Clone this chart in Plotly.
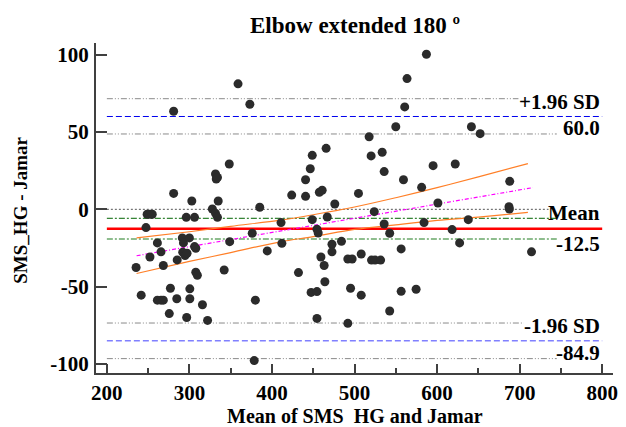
import plotly.graph_objects as go

# Bland-Altman: mean of the two methods vs difference
mean_vals = [
    235.4, 241.6, 247.4, 248.8, 252.2, 255.0, 252.2, 261.2, 261.2, 265.6,
    268.4, 265.6, 268.4, 275.6, 277.0, 280.9, 280.9, 284.7, 285.2, 291.4,
    292.8, 291.9, 294.7, 297.1, 296.2, 296.7, 300.0, 300.5, 300.5, 302.9,
    306.2, 306.2, 307.7, 307.7, 309.6, 315.8, 322.0, 327.8, 331.6, 332.5,
    334.0, 331.6, 334.0, 334.9, 342.1, 348.3, 348.8, 358.9, 373.2, 376.1,
    379.9, 378.5, 385.2, 394.3, 411.0, 412.0, 423.9, 432.1, 440.7, 440.7,
    446.4, 448.8, 447.4, 454.5, 448.8, 454.5, 456.0, 454.5, 457.4, 460.8,
    459.3, 463.2, 465.6, 467.0, 464.1, 472.7, 472.7, 476.1, 484.2, 491.9,
    497.1, 491.9, 495.2, 504.8, 508.1, 508.1, 517.7, 520.1, 520.6, 524.9,
    531.6, 523.9, 533.5, 535.9, 535.9, 542.6, 542.6, 550.0, 556.5, 556.5,
    559.3, 560.8, 563.6, 574.6, 581.3, 584.2, 587.1, 595.2, 601.0, 618.2,
    622.0, 627.3, 637.8, 641.6, 652.2, 688.0, 687.1, 687.6, 714.4,
]
diff_vals = [
    -37.6, -55.5, -11.8, -3.2, -3.2, -3.2, -30.8, -21.7, -58.7, -58.7,
    -58.7, -27.5, -36.3, -67.4, -51.0, 10.3, 63.4, -57.8, -32.7, -18.5,
    -21.7, -27.7, -29.9, -28.4, -5.2, -69.9, -18.5, -51.4, -57.8, 5.4,
    -5.2, -24.1, -25.2, -40.6, -42.6, -61.7, -71.8, 0.2, 22.8, 19.6,
    20.6, -2.6, -5.2, 5.4, -39.2, 29.3, -20.9, 81.1, 67.9, -15.5,
    -58.7, -97.8, 1.3, -26.9, -8.6, -22.0, 9.2, -40.9, 19.1, 8.4,
    26.2, 34.9, -53.7, -53.2, -6.7, -12.9, -15.3, -70.5, 11.0, 12.3,
    -30.8, -36.3, 39.4, -5.0, -46.8, -22.6, -27.5, 3.4, -20.7, -32.1,
    -32.1, -73.7, -51.0, 10.3, -28.9, -55.5, 46.9, 34.5, -32.8, -32.8,
    -32.8, -1.5, 36.9, 24.4, -9.5, -15.5, -65.7, 53.4, -25.6, -53.0,
    19.1, 66.2, 84.5, -51.7, 14.2, -8.6, 100.2, 28.2, 4.1, -13.1,
    29.3, -21.7, -6.7, 53.4, 48.9, 18.1, 1.7, 0.2, -27.5,
]

# limits of agreement and their confidence intervals
mean_diff = -12.5
upper_loa = 60.0
lower_loa = -84.9
mean_ci = [-5.8, -19.2]
upper_ci = [71.5, 48.7]
lower_ci = [-73.5, -96.5]

# regression line of differences and its confidence band
reg_x = [236, 716]
reg_y = [-30.0, 14.0]
band_x = [236, 300, 350, 410, 450, 500, 550, 600, 650, 710]
band_hi = [-18.5, -14.5, -11.0, -7.0, -3.5, 1.5, 7.5, 14.0, 21.0, 29.5]
band_lo = [-41.5, -33.7, -28.0, -21.0, -17.7, -13.0, -10.0, -7.2, -5.0, -2.0]

x_ticks = [200, 300, 400, 500, 600, 700, 800]
y_ticks = [-100, -50, 0, 50, 100]
y_tick_text = ["-100", "-50", "0", "50", "100"]

FONT = "Liberation Serif"
full_x = [200, 800]
short_x = [200, 745]

fig = go.Figure()


def hline(y, xs, color, dash, width=1):
    fig.add_trace(go.Scatter(
        x=xs, y=[y, y], mode="lines", hoverinfo="skip",
        line=dict(color=color, dash=dash, width=width),
    ))


gray_dash = "6px,2px,1px,2px,1px,2px"
for y in upper_ci + lower_ci:
    hline(y, short_x, "#8a8a8a", gray_dash)
hline(0, [200, 735], "#555555", "2px,2px")
hline(upper_loa, full_x, "#0000ee", "6px,3px")
hline(lower_loa, full_x, "#8080ff", "6px,3px", 1.5)
hline(mean_ci[0], short_x, "#006400", "6px,2px,2px,2px")
hline(mean_ci[1], short_x, "#6aa86a", "6px,2px,2px,2px", 1.5)
hline(mean_diff, full_x, "#ff0000", "solid", 2.5)

fig.add_trace(go.Scatter(
    x=band_x, y=band_hi, mode="lines", line=dict(color="#ff7f27", width=1.2, shape="spline"),
))
fig.add_trace(go.Scatter(
    x=band_x, y=band_lo, mode="lines", line=dict(color="#ff7f27", width=1.2, shape="spline"),
))
fig.add_trace(go.Scatter(
    x=reg_x, y=reg_y, mode="lines", line=dict(color="#ff00ff", dash="4px,2px,1px,2px", width=1.2),
))

fig.add_trace(go.Scatter(
    x=mean_vals, y=diff_vals, mode="markers",
    marker=dict(color="#2b2b2b", size=9),
))

labels = [
    ("+1.96 SD", 69.6, True),
    ("60.0", 52.3, False),
    ("Mean", -2.6, False),
    ("-12.5", -22.6, False),
    ("-1.96 SD", -75.2, True),
    ("-84.9", -93.1, False),
]
for txt, y, bg in labels:
    fig.add_annotation(
        x=798, y=y, xref="x", yref="y", text=txt, showarrow=False,
        xanchor="right", yanchor="middle", borderpad=0,
        bgcolor="white" if bg else "rgba(0,0,0,0)",
        font=dict(family=FONT, size=21, color="black", weight="bold"),
    )

fig.add_annotation(
    x=0.5, y=1.0545, xref="paper", yref="paper", text="Elbow extended 180 º",
    showarrow=False, xanchor="center", yanchor="middle",
    font=dict(family=FONT, size=23, color="black", weight="bold"),
)
fig.add_annotation(
    x=0.5, y=-0.130, xref="paper", yref="paper", text="Mean of SMS\u00a0 HG and Jamar",
    showarrow=False, xanchor="center", yanchor="middle",
    font=dict(family=FONT, size=20, color="black", weight="bold"),
)
fig.add_annotation(
    x=-0.1456, y=0.494, xref="paper", yref="paper", text="SMS_HG - Jamar",
    showarrow=False, xanchor="center", yanchor="middle", textangle=-90,
    font=dict(family=FONT, size=19, color="black", weight="bold"),
)

# the page body has an 8px margin, so the figure is shrunk by that much
tick_font = dict(family=FONT, size=21, color="black", weight="bold")
fig.update_layout(
    width=618, height=419,
    margin=dict(l=88, r=8, t=35, b=54),
    paper_bgcolor="white", plot_bgcolor="white",
    showlegend=False,
    xaxis=dict(
        range=[186.85, 813.1], tickvals=x_ticks, showgrid=False, zeroline=False,
        showline=True, linecolor="#404040", linewidth=2,
        ticks="inside", ticklen=9, tickwidth=2, tickcolor="#404040",
        minor=dict(dtick=50, tick0=0, ticks="inside", ticklen=5, tickwidth=1.5, tickcolor="#404040"),
        tickfont=tick_font,
    ),
    yaxis=dict(
        range=[-105.8, 107.5], tickvals=y_ticks, ticktext=y_tick_text,
        showgrid=False, zeroline=False,
        showline=True, linecolor="#404040", linewidth=2,
        ticks="inside", ticklen=11, tickwidth=2, tickcolor="#404040",
        tickfont=tick_font, ticklabelstandoff=1,
    ),
)

fig.write_html("out.html")
